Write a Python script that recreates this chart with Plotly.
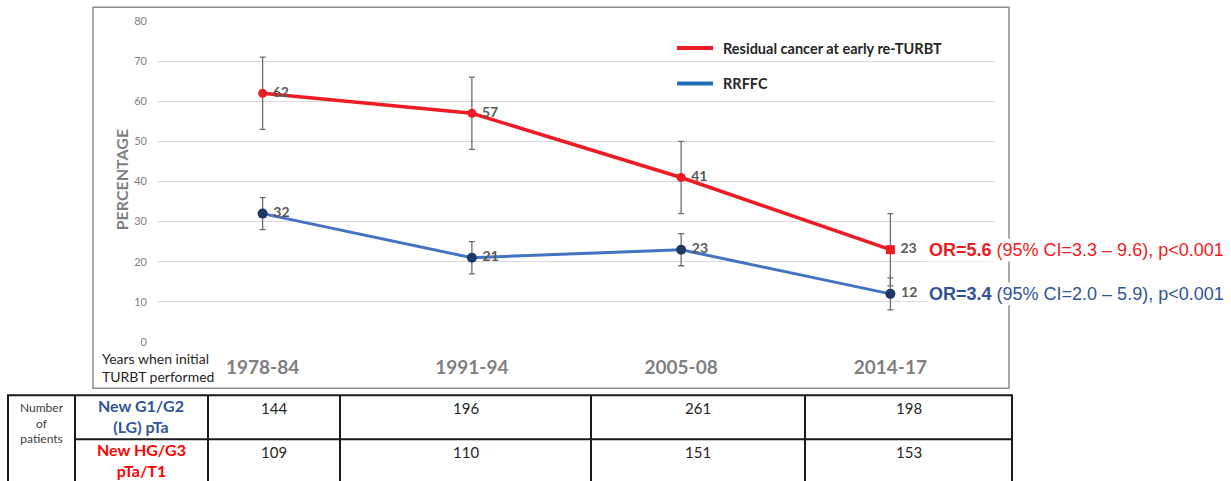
import plotly.graph_objects as go

# --- data ---
PERIODS = ["1978-84", "1991-94", "2005-08", "2014-17"]
RESIDUAL = [62, 57, 41, 23]
RESIDUAL_ERR = [9, 9, 9, 9]
RRFFC = [32, 21, 23, 12]
RRFFC_ERR = [4, 4, 4, 4]
N_LG = [144, 196, 261, 198]
N_HG = [109, 110, 151, 153]
OR_RED = ("OR=5.6", " (95% CI=3.3 – 9.6), p<0.001")
OR_BLUE = ("OR=3.4", " (95% CI=2.0 – 5.9), p<0.001")

# --- look ---
W, H = 1231, 481
L, R, T, B = 158, 995, 20.7, 341.7  # plot area in px
CAL = "Lato, 'Open Sans', sans-serif"
ARIAL = "Liberation Sans, Arial, sans-serif"
RED = "#ED1C24"
BLUE_LINE = "#4472C4"
NAVY = "#1F3864"
OR_BLUE_C = "#2F5597"
GRAY = "#7F7F7F"
DARK = "#262626"


def px(x):
    return (x - L) / (R - L)


def py(y):
    return (B - y) / (B - T)


def note(x, y, text, size, color, family=CAL, xanchor="center", **kw):
    return dict(xref="paper", yref="paper", x=px(x), y=py(y), text=text,
                xanchor=xanchor, yanchor="middle", showarrow=False,
                font=dict(family=family, size=size, color=color), **kw)


fig = go.Figure()
fig.add_trace(go.Scatter(
    x=PERIODS, y=RESIDUAL, mode="lines+markers+text",
    line=dict(color=RED, width=3.5),
    marker=dict(size=9, color=RED, symbol=["circle", "circle", "circle", "square"]),
    error_y=dict(type="data", array=RESIDUAL_ERR, color="#6E6E6E", thickness=1.3, width=3),
    text=[f" {v}" for v in RESIDUAL], textposition="middle right",
    textfont=dict(family=CAL, size=14, color="#595959", weight="bold"),
    showlegend=False, cliponaxis=False,
))
fig.add_trace(go.Scatter(
    x=PERIODS, y=RRFFC, mode="lines+markers+text",
    line=dict(color=BLUE_LINE, width=3),
    marker=dict(size=10, color=NAVY),
    error_y=dict(type="data", array=RRFFC_ERR, color="#6E6E6E", thickness=1.3, width=3),
    text=[f" {v}" for v in RRFFC], textposition="middle right",
    textfont=dict(family=CAL, size=14, color="#595959", weight="bold"),
    showlegend=False, cliponaxis=False,
))

shapes = []
ann = []

# chart frame
shapes.append(dict(type="rect", xref="paper", yref="paper", x0=px(93), x1=px(1009),
                   y0=py(388), y1=py(7), line=dict(color="#8C8C8C", width=1.5),
                   layer="below"))

# legend (drawn by hand, Excel style)
for yy, col, label in [(47.7, RED, "Residual cancer at early re-TURBT"),
                       (83.3, "#1F6FB8", "RRFFC")]:
    shapes.append(dict(type="line", xref="paper", yref="paper", x0=px(677), x1=px(713),
                       y0=py(yy), y1=py(yy), line=dict(color=col, width=4)))
    ann.append(note(721, yy, f"<b>{label}</b>", 14.5, DARK, xanchor="left"))

# axis title & x caption
ann.append(note(121, 180, "<b>PERCENTAGE</b>", 16, GRAY, textangle=-90))
ann.append(note(100, 367, "Years when initial<br>TURBT performed", 14, DARK,
                xanchor="left", align="left"))

# odds ratios
for val, parts, col in [(RESIDUAL[-1], OR_RED, RED), (RRFFC[-1], OR_BLUE, OR_BLUE_C)]:
    ann.append(dict(xref="paper", yref="y", x=px(927), y=val,
                    text=f"<b>{parts[0]}</b>{parts[1]}", xanchor="left", yanchor="middle",
                    showarrow=False, bgcolor="white", borderpad=1,
                    font=dict(family=ARIAL, size=18, color=col)))

# table
cols = [8, 75, 208, 340, 591, 805, 1012]
top, mid, bot = 395, 439, 484
edge = dict(color="#1A1A1A", width=2)
for x in cols:
    shapes.append(dict(type="line", xref="paper", yref="paper", x0=px(x), x1=px(x),
                       y0=py(top), y1=py(bot), line=edge))
for x0, yy in [(cols[0] - 1, top), (cols[1], mid), (cols[0] - 1, bot - 2)]:
    shapes.append(dict(type="line", xref="paper", yref="paper", x0=px(x0),
                       x1=px(cols[-1] + 1), y0=py(yy), y1=py(yy), line=edge))

ann.append(note(42, 423, "Number<br>of<br>patients", 12, "#404040"))
ann.append(note(141, 416, "<b>New G1/G2<br>(LG) pTa</b>", 16, OR_BLUE_C))
ann.append(note(141, 460, "<b>New HG/G3<br>pTa/T1</b>", 16, "#FF0000"))
for i in range(len(PERIODS)):
    cx = (cols[i + 2] + cols[i + 3]) / 2
    ann.append(note(cx, 408, str(N_LG[i]), 15, DARK))
    ann.append(note(cx, 452, str(N_HG[i]), 15, DARK))

fig.update_layout(
    width=W, height=H,
    margin=dict(l=L, r=W - R, t=T, b=H - B, pad=0),
    paper_bgcolor="white", plot_bgcolor="white",
    shapes=shapes, annotations=ann,
    xaxis=dict(type="category", range=[-0.5, 3.5], showgrid=False, zeroline=False,
               showline=False, ticks="", ticklabelstandoff=12,
               tickfont=dict(family=CAL, size=19, color=GRAY, weight="bold")),
    yaxis=dict(range=[0, 80], dtick=10, showgrid=True, gridcolor="#D9D9D9", gridwidth=1,
               zeroline=False, showline=False, ticks="", ticklabelstandoff=10,
               tickfont=dict(family=CAL, size=11, color="#808080")),
)

fig.write_html("out.html", config={"displayModeBar": False},
               post_script="document.body.style.margin='0';")
